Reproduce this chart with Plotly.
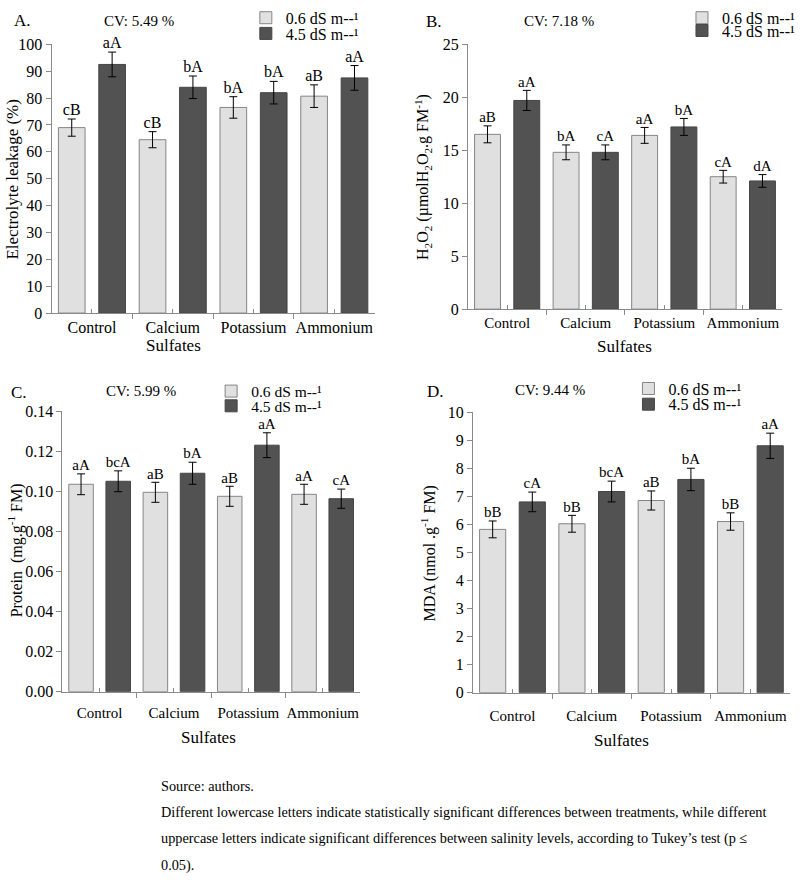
import plotly.graph_objects as go

FONT = "Liberation Serif"
LIGHT = "#e0e0e0"
LIGHT_LINE = "#858585"
DARK = "#525252"
DARK_LINE = "#454545"
AXIS = "#8a8a8a"

categories = ["Control", "Calcium", "Potassium", "Ammonium"]
levels = ["0.6 dS m--¹", "4.5 dS m--¹"]

# Panel A - Electrolyte leakage (%)
el_low = [69.0, 64.5, 76.5, 80.7]
el_low_err = [3.2, 3.0, 4.0, 4.2]
el_high = [92.5, 84.0, 82.0, 87.5]
el_high_err = [4.6, 4.2, 4.2, 4.6]
el_low_lbl = ["cB", "cB", "bA", "aB"]
el_high_lbl = ["aA", "bA", "bA", "aA"]

# Panel B - H2O2
h2_low = [16.5, 14.8, 16.4, 12.5]
h2_low_err = [0.8, 0.7, 0.75, 0.6]
h2_high = [19.7, 14.8, 17.2, 12.1]
h2_high_err = [0.95, 0.7, 0.8, 0.6]
h2_low_lbl = ["aB", "bA", "aA", "cA"]
h2_high_lbl = ["aA", "cA", "bA", "dA"]

# Panel C - Protein
pr_low = [0.1035, 0.0995, 0.0975, 0.0985]
pr_low_err = [0.0052, 0.005, 0.005, 0.005]
pr_high = [0.105, 0.109, 0.123, 0.0963]
pr_high_err = [0.0052, 0.0055, 0.0062, 0.0048]
pr_low_lbl = ["aA", "aB", "aB", "aA"]
pr_high_lbl = ["bcA", "bA", "aA", "cA"]

# Panel D - MDA
md_low = [5.82, 6.02, 6.85, 6.1]
md_low_err = [0.3, 0.3, 0.34, 0.31]
md_high = [6.8, 7.17, 7.6, 8.8]
md_high_err = [0.35, 0.37, 0.4, 0.45]
md_low_lbl = ["bB", "bB", "aB", "bB"]
md_high_lbl = ["cA", "bcA", "bA", "aA"]

panels = [
    dict(low=el_low, low_err=el_low_err, high=el_high, high_err=el_high_err,
         llbl=el_low_lbl, hlbl=el_high_lbl, ax="", legs=("legend", "legend5"),
         legpos=(288, 10, 26), legfs=16,
         xdom=[52/800, 378/800], ydom=[1-311/889, 1-37/889],
         yrange=[0, 100], dtick=10, fmt="", tfs=16, lfs=16, cfs=16, stand=0),
    dict(low=h2_low, low_err=h2_low_err, high=h2_high, high_err=h2_high_err,
         llbl=h2_low_lbl, hlbl=h2_high_lbl, ax="2", legs=("legend2", "legend6"),
         legpos=(728, 10, 23), legfs=16,
         xdom=[472/800, 789/800], ydom=[1-307/889, 1-37/889],
         yrange=[0, 25], dtick=5, fmt="", tfs=16, lfs=15, cfs=15, stand=0),
    dict(low=pr_low, low_err=pr_low_err, high=pr_high, high_err=pr_high_err,
         llbl=pr_low_lbl, hlbl=pr_high_lbl, ax="3", legs=("legend3", "legend7"),
         legpos=(253, 391, 406), legfs=15.5,
         xdom=[63/800, 363/800], ydom=[1-697/889, 1-411/889],
         yrange=[0, 0.14], dtick=0.02, fmt=".2f", tfs=16, lfs=15, cfs=15, stand=7),
    dict(low=md_low, low_err=md_low_err, high=md_high, high_err=md_high_err,
         llbl=md_low_lbl, hlbl=md_high_lbl, ax="4", legs=("legend4", "legend8"),
         legpos=(674, 388, 404), legfs=16,
         xdom=[477/800, 797/800], ydom=[1-698/889, 1-412/889],
         yrange=[0, 10], dtick=1, fmt="", tfs=16, lfs=15, cfs=15, stand=9),
]

fig = go.Figure()
idx = list(range(len(categories)))

for p in panels:
    xa = "x" + p["ax"]
    ya = "y" + p["ax"]
    for vals, errs, name, fill, line, lbls, sh, leg in [
        (p["low"], p["low_err"], levels[0], LIGHT, LIGHT_LINE, p["llbl"], -0.25, p["legs"][0]),
        (p["high"], p["high_err"], levels[1], DARK, DARK_LINE, p["hlbl"], 0.25, p["legs"][1]),
    ]:
        fig.add_trace(go.Bar(
            x=idx, y=vals, name=name, xaxis=xa, yaxis=ya, legend=leg,
            marker=dict(color=fill, line=dict(color=line, width=1)),
            error_y=dict(type="data", array=errs, visible=True,
                         color="#000000", thickness=1, width=4),
        ))
        fig.add_trace(go.Scatter(
            x=[i + sh for i in idx], y=[v + e for v, e in zip(vals, errs)],
            mode="text", text=lbls, textposition="top center", cliponaxis=False,
            textfont=dict(family=FONT, size=p["lfs"], color="#000"),
            xaxis=xa, yaxis=ya, showlegend=False, hoverinfo="skip",
        ))

layout = dict(
    width=800, height=889, margin=dict(l=0, r=0, t=0, b=0),
    paper_bgcolor="white", plot_bgcolor="white",
    barmode="group", bargap=0.0, bargroupgap=0.34,
    font=dict(family=FONT, size=15, color="#000"),
)

for p in panels:
    n = p["ax"]
    layout["xaxis" + n] = dict(
        domain=p["xdom"], anchor="y" + n, range=[-0.5, 3.5],
        tickmode="array", tickvals=idx, ticktext=categories,
        ticks="inside", ticklen=4, tickcolor=AXIS, tickwidth=1,
        minor=dict(tickmode="array", tickvals=[i - 0.5 for i in idx] + [3.5],
                   ticks="outside", ticklen=5, tickcolor=AXIS, tickwidth=1),
        showline=True, linecolor=AXIS, linewidth=1, showgrid=False, zeroline=False,
        ticklabelstandoff=p["stand"],
        tickfont=dict(family=FONT, size=p["cfs"], color="#000"), fixedrange=True,
    )
    layout["yaxis" + n] = dict(
        domain=p["ydom"], anchor="x" + n, range=p["yrange"], dtick=p["dtick"],
        tickformat=p["fmt"], ticks="outside", ticklen=5, tickcolor=AXIS,
        showline=True, linecolor=AXIS, linewidth=1, showgrid=False, zeroline=False,
        tickfont=dict(family=FONT, size=p["tfs"], color="#000"), fixedrange=True,
    )
    tx, r1, r2 = p["legpos"]
    for leg, ry in zip(p["legs"], (r1, r2)):
        layout[leg] = dict(x=(tx - 40) / 800, y=1 - ry / 889, xanchor="left", yanchor="middle",
                           bgcolor="rgba(0,0,0,0)", borderwidth=0, itemwidth=30,
                           font=dict(family=FONT, size=p["legfs"], color="#000"))

fig.update_layout(**layout)

def ann(text, x, y, size=16, xanchor="left", yanchor="middle", angle=0):
    fig.add_annotation(text=text, x=x / 800, y=1 - y / 889, xref="paper", yref="paper",
                       showarrow=False, xanchor=xanchor, yanchor=yanchor,
                       textangle=angle, font=dict(family=FONT, size=size, color="#000"))

# panel letters and CV
ann("A.", 12, 13, 17)
ann("CV: 5.49 %", 140, 13, 15, xanchor="center")
ann("B.", 428, 14, 17)
ann("CV: 7.18 %", 564, 13, 15, xanchor="center")
ann("C.", 9, 392, 17)
ann("CV: 5.99 %", 142, 390, 15, xanchor="center")
ann("D.", 429, 391, 17)
ann("CV: 9.44 %", 555, 389, 15, xanchor="center")

# y titles
ann("Electrolyte leakage (%)", 13, 175, 17, xanchor="center", angle=-90)
ann("H<sub>2</sub>O<sub>2</sub> (µmolH<sub>2</sub>O<sub>2</sub>.g FM<sup>-1</sup>)", 426, 172, 16, xanchor="center", angle=-90)
ann("Protein  (mg.g<sup>-1</sup> FM)", 16, 553, 16, xanchor="center", angle=-90)
ann("MDA (nmol .g<sup>-1</sup> FM)", 432, 556, 16, xanchor="center", angle=-90)

# x titles
ann("Sulfates", 175, 344, 17, xanchor="center")
ann("Sulfates", 630, 345, 17, xanchor="center")
ann("Sulfates", 210, 744, 17, xanchor="center")
ann("Sulfates", 627, 747, 17, xanchor="center")

# footer
ann("Source: authors.", 160, 793, 14.3)
ann("Different lowercase letters indicate statistically significant differences between treatments, while different", 160, 820, 14.3)
ann("uppercase letters indicate significant differences between salinity levels, according to Tukey\u2019s test (p \u2264", 160, 847, 14.3)
ann("0.05).", 160, 874, 14.3)

fig.write_html("out.html")
